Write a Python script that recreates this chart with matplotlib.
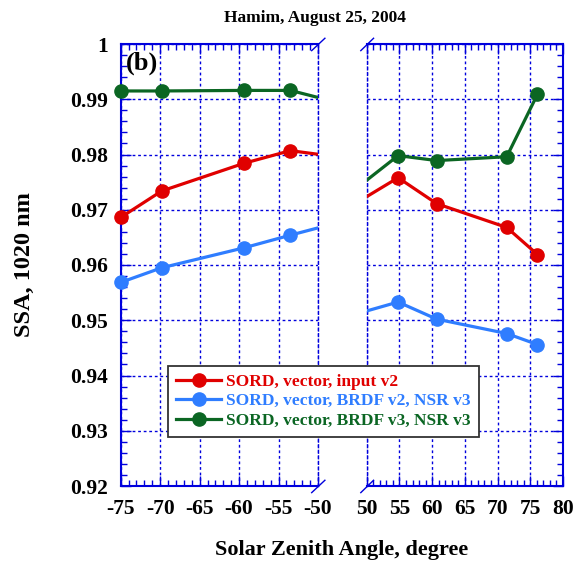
import matplotlib
matplotlib.use("Agg")
import matplotlib.pyplot as plt
from matplotlib.ticker import MultipleLocator
from matplotlib.lines import Line2D

# ---- data ----
sza = [-74.9, -69.8, -59.4, -53.5, -45.0, 45.0, 54.8, 60.7, 71.4, 76.1]
ssa_input_v2 = [0.9687, 0.9734, 0.9784, 0.9807, 0.9791, 0.9688, 0.9758, 0.9711, 0.9668, 0.9619]
ssa_brdf_v2 = [0.9569, 0.9595, 0.9631, 0.9654, 0.9686, 0.9500, 0.9533, 0.9502, 0.9476, 0.9456]
ssa_brdf_v3 = [0.9915, 0.9915, 0.9916, 0.9916, 0.9885, 0.9707, 0.9798, 0.9789, 0.9796, 0.9909]
series_labels = ["SORD, vector, input v2",
                 "SORD, vector, BRDF v2, NSR v3",
                 "SORD, vector, BRDF v3, NSR v3"]
series_colors = ["#e00000", "#2f7dff", "#0b6623"]
left_ticks = [-75, -70, -65, -60, -55, -50]
right_ticks = [50, 55, 60, 65, 70, 75, 80]
y_ticks = [0.92, 0.93, 0.94, 0.95, 0.96, 0.97, 0.98, 0.99, 1.0]
y_ticklabels = ["0.92", "0.93", "0.94", "0.95", "0.96", "0.97", "0.98", "0.99", "1"]

plt.rcParams['font.family'] = ['Liberation Serif', 'DejaVu Serif']
plt.rcParams['font.weight'] = 'bold'
plt.rcParams['axes.unicode_minus'] = False

W, H = 582, 570
fig = plt.figure(figsize=(W / 100, H / 100), dpi=100)

def px_axes(x0, y0, x1, y1):
    return [x0 / W, 1 - y1 / H, (x1 - x0) / W, (y1 - y0) / H]

axL = fig.add_axes(px_axes(120.7, 44, 318, 486))
axR = fig.add_axes(px_axes(366.7, 44, 563, 486))
axL.set_xlim(-75, -50)
axR.set_xlim(50, 80)

blue = "#0000dd"
dots = (0, (2, 2))
series = [ssa_input_v2, ssa_brdf_v2, ssa_brdf_v3]
for ax in (axL, axR):
    lo, hi = ax.get_xlim()
    for vals, col in zip(series, series_colors):
        ax.plot(sza, vals, color=col, lw=2.3, zorder=3)
        xs = [x for x in sza if lo <= x <= hi]
        ys = [v for x, v in zip(sza, vals) if lo <= x <= hi]
        ax.plot(xs, ys, ls='none', color=col, marker='o', ms=9.5,
                zorder=4, clip_on=False)
    ax.set_ylim(0.92, 1.0)
    ax.set_yticks(y_ticks)
    ax.yaxis.set_minor_locator(MultipleLocator(0.002))
    ax.xaxis.set_minor_locator(MultipleLocator(1))
    ax.grid(True, which='major', color=blue, ls=dots, lw=1.0)
    ax.tick_params(which='both', direction='in', color=blue, labelsize=15.5, pad=9)
    ax.tick_params(which='major', length=7, width=1)
    ax.tick_params(which='minor', length=4, width=1)
    for s in ax.spines.values():
        s.set_color(blue)
        s.set_linewidth(1.5)

axL.set_xticks(left_ticks)
axL.set_yticklabels(y_ticklabels)
axL.spines['right'].set_linestyle(dots)
axL.spines['right'].set_linewidth(1.0)
axL.tick_params(which='both', top=True, bottom=True, left=True, right=False)

axR.set_xticks(right_ticks)
axR.spines['left'].set_linestyle(dots)
axR.spines['left'].set_linewidth(1.0)
axR.tick_params(which='both', top=True, bottom=True, left=False, right=True, labelleft=False)

# break marks
for ax, xs in ((axL, (0.968, 1.035)), (axR, (-0.03, 0.035))):
    for yb in (0.0, 1.0):
        ax.plot(xs, (yb - 0.015, yb + 0.013), transform=ax.transAxes,
                color=blue, lw=1, clip_on=False)

axL.text(0.027, 0.982, "(b)", transform=axL.transAxes, fontsize=19,
         fontweight='bold', va='top', ha='left', zorder=5)

fig.text(315 / W, 1 - 18 / H, "Hamim, August 25, 2004", fontsize=12.5,
         fontweight='bold', ha='center', va='center')
fig.text(341.5 / W, 1 - 550 / H, "Solar Zenith Angle, degree", fontsize=16,
         fontweight='bold', ha='center', va='center')
fig.text(24 / W, 1 - 264.5 / H, "SSA, 1020 nm", fontsize=17.5, rotation=90,
         fontweight='bold', ha='center', va='center')

handles = [Line2D([], [], color=c, lw=2.3, marker='o', ms=9.5) for c in series_colors]
leg = fig.legend(handles, series_labels, loc='lower left',
                 bbox_to_anchor=(168.3 / W, 1 - 436.7 / H), fancybox=False,
                 framealpha=1, edgecolor='#333333', handlelength=2.6,
                 handletextpad=0.3, borderpad=0.45, labelspacing=0.2,
                 borderaxespad=0,
                 prop={'size': 12.5, 'weight': 'bold'})
leg.get_frame().set_linewidth(1.3)
for t, c in zip(leg.get_texts(), series_colors):
    t.set_color(c)

fig.savefig("out.png", dpi=100)
